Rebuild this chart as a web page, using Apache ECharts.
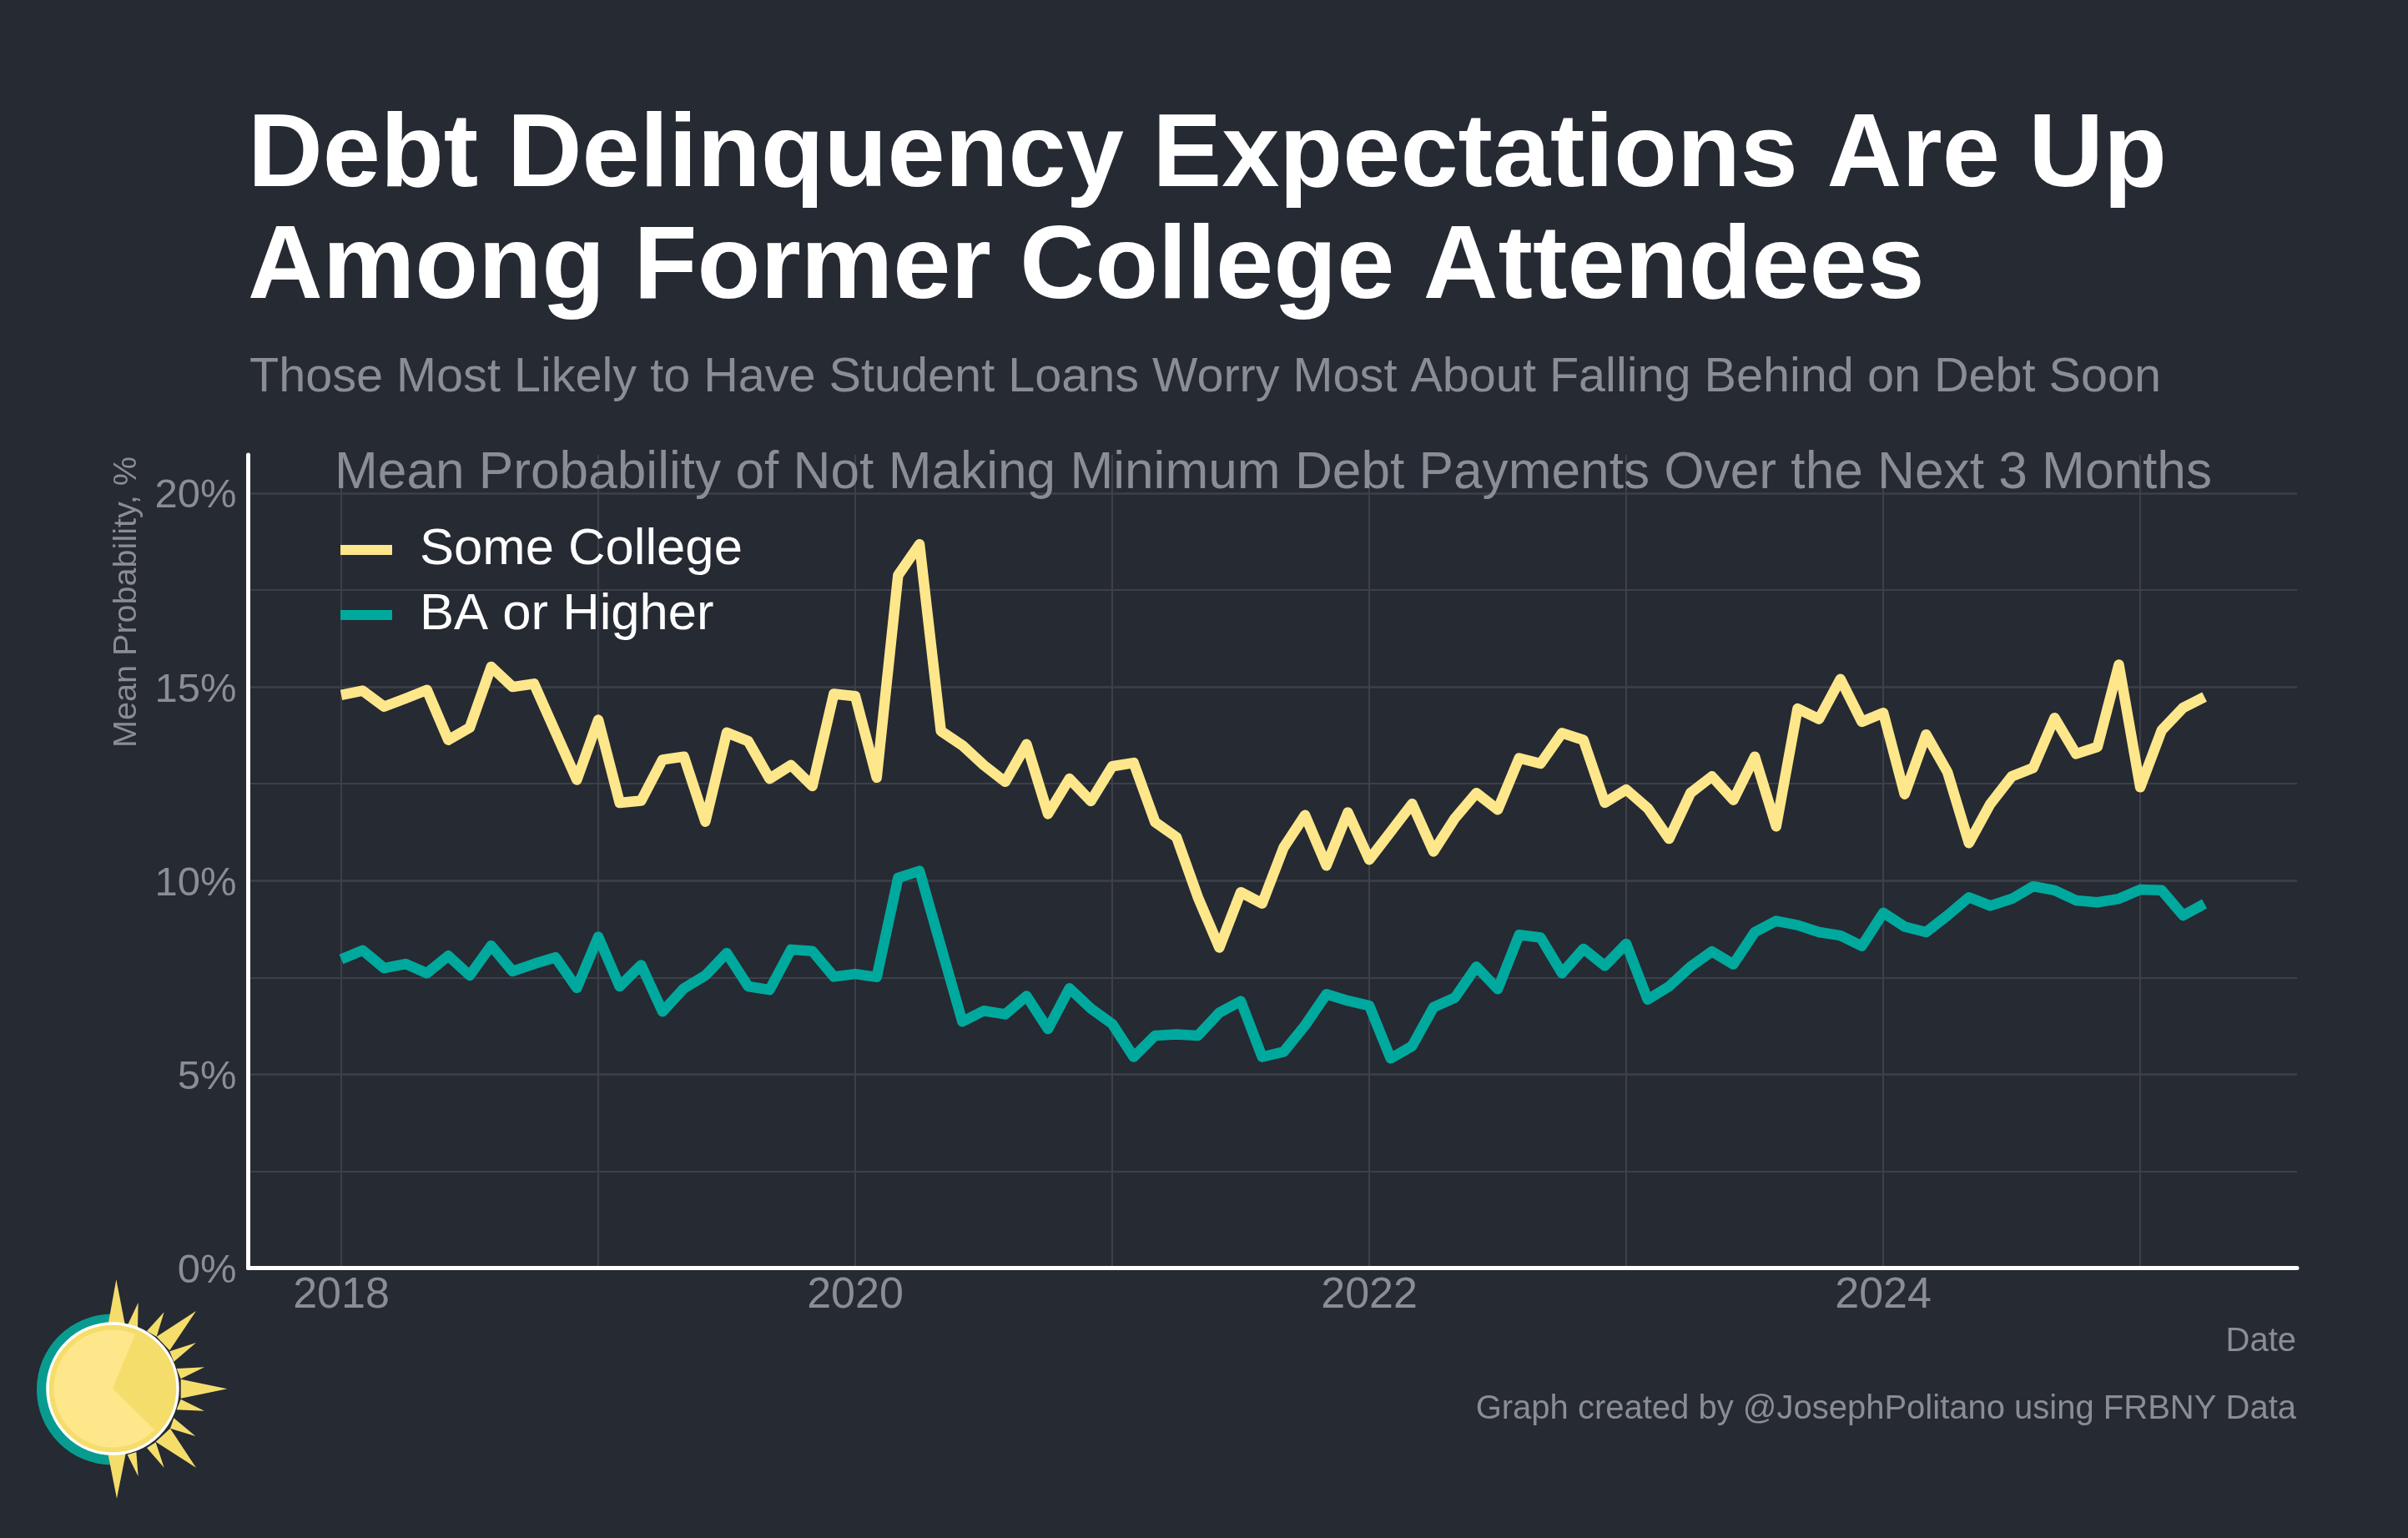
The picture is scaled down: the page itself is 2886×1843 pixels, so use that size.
<!DOCTYPE html>
<html>
<head>
<meta charset="utf-8">
<title>Debt Delinquency Expectations</title>
<style>html,body{margin:0;padding:0;background:#252a33;}#c{width:2886px;height:1843px;}</style>
<script src="https://cdn.jsdelivr.net/npm/echarts@6/dist/echarts.min.js"></script>
</head>
<body>
<div id="c"></div>
<script>
const startYear = 2018;
const someCollege = [14.79,14.9,14.49,14.7,14.92,13.63,13.95,15.52,15.0,15.08,13.84,12.6,14.15,12.01,12.06,13.12,13.2,11.52,13.82,13.6,12.63,12.98,12.44,14.82,14.76,12.66,17.88,18.68,13.86,13.49,12.98,12.55,13.52,11.72,12.63,12.05,12.95,13.04,11.51,11.12,9.57,8.27,9.7,9.41,10.85,11.69,10.39,11.76,10.54,11.26,11.98,10.75,11.61,12.26,11.83,13.16,13.02,13.81,13.63,12.01,12.35,11.87,11.08,12.26,12.69,12.08,13.2,11.4,14.44,14.17,15.2,14.1,14.33,12.23,13.77,12.8,10.97,11.98,12.69,12.91,14.2,13.27,13.45,15.57,12.41,13.88,14.46,14.74];
const baOrHigher = [7.97,8.2,7.74,7.85,7.61,8.06,7.55,8.32,7.66,7.85,8.02,7.23,8.55,7.27,7.82,6.62,7.22,7.55,8.13,7.27,7.18,8.22,8.18,7.52,7.59,7.51,10.07,10.25,8.3,6.36,6.64,6.55,7.02,6.17,7.22,6.7,6.3,5.45,6.0,6.03,6.0,6.59,6.89,5.45,5.58,6.26,7.07,6.9,6.77,5.41,5.73,6.73,6.98,7.78,7.2,8.6,8.53,7.61,8.24,7.8,8.37,6.93,7.27,7.78,8.17,7.84,8.67,8.96,8.85,8.67,8.58,8.31,9.17,8.81,8.67,9.1,9.57,9.35,9.53,9.85,9.75,9.49,9.44,9.53,9.77,9.75,9.1,9.4];
const yearGridValues = [2018,2019,2020,2021,2022,2023,2024,2025];
const yearLabelValues = [2018,2020,2022,2024];
const pctMajorValues = [0,5,10,15,20];
const pctMinorValues = [2.5,7.5,12.5,17.5];
const seriesNames = ['Some College','BA or Higher'];

const BG='#252a33', GRID='#3d4049', MUTED='#8b8d94', YEL='#fee78a', TEAL='#00a99d', FONT='"Liberation Sans", Arial, sans-serif';
const pairs = vals => vals.map((v,i)=>[startYear+i/12, v]);

const rays = [
 [[418,160],[388,325],[450,325]],[[497,243],[458,325],[495,335]],[[590,277],[528,345],[563,365]],
 [[705,273],[563,365],[610,415]],[[705,387],[610,418],[625,455]],[[735,475],[635,480],[650,517]],
 [[817,553],[650,518],[650,587]],[[735,632],[650,590],[635,628]],[[703,723],[625,658],[612,695]],
 [[705,836],[612,695],[560,743]],[[590,836],[560,745],[528,765]],[[497,868],[490,780],[458,790]],
 [[420,947],[452,785],[388,785]]
].map(t=>({type:'polygon',silent:true,shape:{points:t.map(p=>[p[0]/3,1480+p[1]/3])},style:{fill:'#f5dd6b'}}));

const chart = echarts.init(document.getElementById('c'),null,{renderer:'canvas',width:2886,height:1843});
chart.setOption({
  animation:false,
  backgroundColor:BG,
  title:[
    {text:'Debt Delinquency Expectations Are Up\nAmong Former College Attendees',left:292,top:117,
     textStyle:{color:'#ffffff',fontFamily:FONT,fontWeight:'bold',fontSize:124.3,lineHeight:134}},
    {text:'Those Most Likely to Have Student Loans Worry Most About Falling Behind on Debt Soon',left:294,top:419,
     textStyle:{color:MUTED,fontFamily:FONT,fontWeight:'normal',fontSize:57.6}},
    {text:'Mean Probability of Not Making Minimum Debt Payments Over the Next 3 Months',left:396,top:532,
     textStyle:{color:MUTED,fontFamily:FONT,fontWeight:'normal',fontSize:62.2}}
  ],
  legend:{show:true,orient:'vertical',left:403,top:623,icon:'rect',itemWidth:62,itemHeight:12,itemGap:16,
    data:seriesNames,textStyle:{color:'#ffffff',fontFamily:FONT,fontSize:61.6,lineHeight:60,padding:[0,0,0,28]}},
  grid:{left:297.5,top:545,width:2455.5,height:974.5,containLabel:false},
  xAxis:{type:'value',min:2017.638,max:2025.61,
    axisLine:{show:true,onZero:false,lineStyle:{color:'#ffffff',width:5}},
    axisTick:{show:false,customValues:yearGridValues},
    axisLabel:{show:true,customValues:yearLabelValues,formatter:v=>String(Math.round(v)),color:MUTED,fontFamily:FONT,fontSize:52,margin:7},
    splitLine:{show:true,lineStyle:{color:GRID,width:2}}},
  yAxis:[
   {type:'value',min:0,max:20.99,
    axisLine:{show:true,onZero:false,lineStyle:{color:'#ffffff',width:5}},
    axisTick:{show:false,customValues:pctMajorValues},
    axisLabel:{show:true,customValues:pctMajorValues,formatter:v=>v+'%',color:MUTED,fontFamily:FONT,fontSize:49,margin:14,verticalAlign:'top',lineHeight:8},
    splitLine:{show:true,lineStyle:{color:GRID,width:2.6}}},
   {type:'value',min:0,max:20.99,position:'left',
    axisLine:{show:false},axisLabel:{show:false},
    axisTick:{show:false,customValues:pctMinorValues},
    splitLine:{show:true,lineStyle:{color:GRID,width:1.8}}}
  ],
  series:[
    {name:seriesNames[0],type:'line',data:pairs(someCollege),showSymbol:false,symbol:'none',itemStyle:{color:YEL},lineStyle:{color:YEL,width:12.5,cap:'butt',join:'round'},z:3},
    {name:seriesNames[1],type:'line',data:pairs(baOrHigher),showSymbol:false,symbol:'none',itemStyle:{color:TEAL},lineStyle:{color:TEAL,width:12.5,cap:'butt',join:'round'},z:4}
  ],
  graphic:[
    {type:'text',x:2752,y:1588,silent:true,style:{text:'Date',font:'40px '+FONT,fill:MUTED,align:'right'}},
    {type:'text',x:2752,y:1669,silent:true,style:{text:'Graph created by @JosephPolitano using FRBNY Data',font:'40px '+FONT,fill:MUTED,align:'right'}},
    {type:'text',x:132,y:896,rotation:Math.PI/2,silent:true,style:{text:'Mean Probability, %',font:'39.6px '+FONT,fill:MUTED,align:'left'}},
    {type:'sector',silent:true,shape:{cx:134.5,cy:1665,r:90.5,r0:0,startAngle:Math.PI/2,endAngle:Math.PI*1.5,clockwise:true},style:{fill:'#089c90'}},
    ...rays,
    {type:'circle',silent:true,shape:{cx:135,cy:1664,r:78},style:{fill:'#f5dd6b',stroke:'#ffffff',lineWidth:3.5}},
    {type:'sector',silent:true,shape:{cx:135,cy:1664,r:70.5,r0:0,startAngle:44.4*Math.PI/180,endAngle:292.5*Math.PI/180,clockwise:true},style:{fill:'#fee78a'}}
  ]
});
</script>
</body>
</html>
